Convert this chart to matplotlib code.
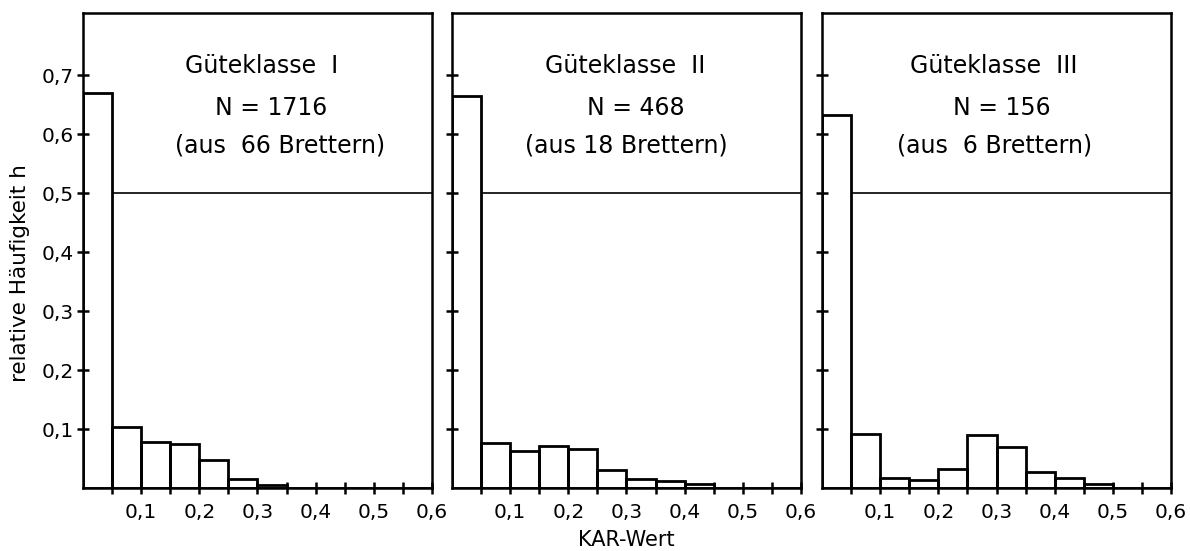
import matplotlib.pyplot as plt
import numpy as np

# KAR-Wert classes, width 0.05
bin_left = [0.0, 0.05, 0.10, 0.15, 0.20, 0.25, 0.30, 0.35, 0.40, 0.45, 0.50, 0.55]

h_klasse1 = [0.67, 0.103, 0.078, 0.075, 0.047, 0.015, 0.005, 0, 0, 0, 0, 0]
h_klasse2 = [0.664, 0.076, 0.062, 0.072, 0.066, 0.031, 0.016, 0.012, 0.006, 0, 0, 0]
h_klasse3 = [0.632, 0.091, 0.017, 0.014, 0.032, 0.09, 0.07, 0.028, 0.017, 0.007, 0, 0]

titles = ["Güteklasse  I", "Güteklasse  II", "Güteklasse  III"]
n_values = ["N = 1716", "N = 468", "N = 156"]
boards = ["(aus  66 Brettern)", "(aus 18 Brettern)", "(aus  6 Brettern)"]

y_ticks = [0.1, 0.2, 0.3, 0.4, 0.5, 0.6, 0.7]
x_ticks = [0.05, 0.1, 0.15, 0.2, 0.25, 0.3, 0.35, 0.4, 0.45, 0.5, 0.55, 0.6]

fig = plt.figure(figsize=(11.9, 5.51), dpi=100)
lefts = [0.0697, 0.3798, 0.6908]
width = 0.2933
bottom = 0.1143
height = 0.862

# text centres per panel (x in data units)
title_x = [0.307, 0.297, 0.296]
n_x = [0.323, 0.316, 0.309]
boards_x = [0.339, 0.299, 0.296]

all_h = [h_klasse1, h_klasse2, h_klasse3]

for i, (hv, left) in enumerate(zip(all_h, lefts)):
    ax = fig.add_axes([left, bottom, width, height])
    ax.bar(bin_left, hv, width=0.05, align="edge", fill=False,
           edgecolor="black", linewidth=2.0)
    ax.hlines(0.5, 0.05, 0.6, color="black", linewidth=1.2)
    ax.set_xlim(0, 0.6)
    ax.set_ylim(0, 0.805)
    for sp in ax.spines.values():
        sp.set_linewidth(1.8)

    ax.set_xticks(x_ticks)
    ax.set_xticklabels([f"{t:.1f}".replace(".", ",") if round(t * 100) % 10 == 0 else ""
                        for t in x_ticks])
    ax.set_yticks(y_ticks)
    if i == 0:
        ax.set_yticklabels([f"{t:.1f}".replace(".", ",") for t in y_ticks])
    else:
        ax.set_yticklabels([])
    ax.tick_params(direction="inout", length=9, width=1.8, labelsize=14.5)
    ax.tick_params(axis="x", pad=6)
    ax.tick_params(axis="y", pad=2)

    ax.text(title_x[i], 0.703, titles[i], ha="center", va="baseline", fontsize=17)
    ax.text(n_x[i], 0.632, n_values[i], ha="center", va="baseline", fontsize=17)
    ax.text(boards_x[i], 0.569, boards[i], ha="center", va="baseline", fontsize=17)

    if i == 1:
        ax.set_xlabel("KAR-Wert", fontsize=15, labelpad=6)

fig.text(0.017, 0.505, "relative Häufigkeit h", rotation=90, ha="center",
         va="center", fontsize=15.5)

plt.savefig("out.png", dpi=100)
